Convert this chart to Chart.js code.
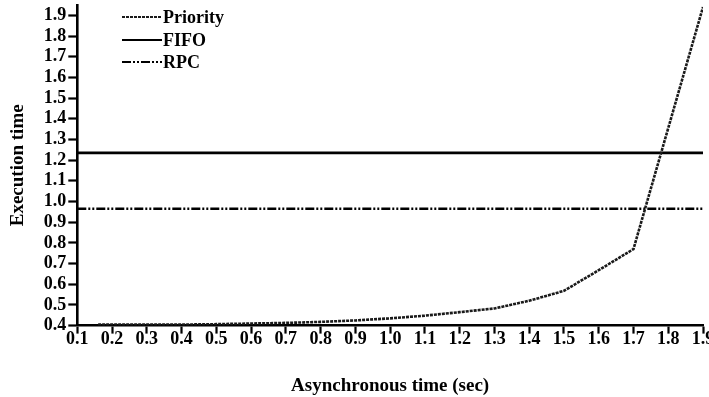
<!DOCTYPE html>
<html>
<head>
<meta charset="utf-8">
<script src="https://cdn.jsdelivr.net/npm/chart.js@4.4.1/dist/chart.umd.min.js"></script>
<style>
  html, body { margin: 0; padding: 0; background: #fff; overflow: hidden; }
  #wrap { width: 709px; height: 397px; }
</style>
</head>
<body>
<div id="wrap"><canvas id="execChart" width="709" height="397"></canvas></div>
<script>
// Asynchronous time (sec) vs execution time
const priorityX = [0.16, 0.2, 0.3, 0.4, 0.5, 0.6, 0.7, 0.8, 0.9, 1.0, 1.1, 1.2, 1.3, 1.4, 1.5, 1.6, 1.7, 1.8, 1.9];
const priorityY = [0.405, 0.405, 0.405, 0.405, 0.407, 0.41, 0.413, 0.418, 0.425, 0.435, 0.448, 0.465, 0.483, 0.52, 0.568, 0.668, 0.77, 1.355, 1.94];
const fifoValue = 1.235;
const rpcValue = 0.965;
const lineX = [0.1, 1.9];

const xTicks = [0.1, 0.2, 0.3, 0.4, 0.5, 0.6, 0.7, 0.8, 0.9, 1.0, 1.1, 1.2, 1.3, 1.4, 1.5, 1.6, 1.7, 1.8, 1.9];
const yTicks = [0.4, 0.5, 0.6, 0.7, 0.8, 0.9, 1.0, 1.1, 1.2, 1.3, 1.4, 1.5, 1.6, 1.7, 1.8, 1.9];

const FONT = "'Liberation Serif', 'DejaVu Serif', serif";

function toPoints(xs, ys) {
    return xs.map((x, i) => ({ x: x, y: ys[i] }));
}

/* ==========================
   LEGEND (top-left, inside plot)
========================== */
const insideLegend = {
    id: 'insideLegend',
    afterDraw(chart) {
        const ctx = chart.ctx;
        const x0 = 122, x1 = 162;
        const rows = [17, 40, 62];
        ctx.save();
        chart.data.datasets.forEach((ds, i) => {
            const y = rows[i];
            ctx.beginPath();
            ctx.strokeStyle = ds.borderColor;
            ctx.lineWidth = 2.2;
            ctx.setLineDash(ds.borderDash || []);
            ctx.moveTo(x0, y);
            ctx.lineTo(x1, y);
            ctx.stroke();
            ctx.setLineDash([]);
            ctx.fillStyle = '#000';
            ctx.font = "bold 18px " + FONT;
            ctx.textBaseline = 'middle';
            ctx.fillText(ds.label, x1 + 1, y + 1);
        });
        ctx.restore();
    }
};

const ctx = document.getElementById('execChart').getContext('2d');

new Chart(ctx, {
    type: 'line',
    data: {
        datasets: [{
            label: 'Priority',
            data: toPoints(priorityX, priorityY),
            borderColor: '#1a1a1a',
            borderWidth: 2.6,
            borderDash: [3, 1],
            pointRadius: 0,
            tension: 0
        }, {
            label: 'FIFO',
            data: toPoints(lineX, [fifoValue, fifoValue]),
            borderColor: '#000',
            borderWidth: 2.6,
            pointRadius: 0
        }, {
            label: 'RPC',
            data: toPoints(lineX, [rpcValue, rpcValue]),
            borderColor: '#000',
            borderWidth: 2.6,
            borderDash: [9, 2, 2, 2, 2, 2],
            pointRadius: 0
        }]
    },
    options: {
        responsive: false,
        animation: false,
        layout: { padding: { top: 5, right: 6, left: 7, bottom: 0 } },
        plugins: { legend: { display: false }, tooltip: { enabled: false } },
        scales: {
            x: {
                type: 'linear',
                min: 0.1,
                max: 1.9,
                afterBuildTicks: s => { s.ticks = xTicks.map(v => ({ value: v })); },
                afterFit: s => { s.paddingLeft = 0; s.paddingRight = 0; },
                border: { color: '#000', width: 2.6 },
                grid: { drawOnChartArea: false, color: '#000', tickLength: 8, tickWidth: 2.2 },
                ticks: {
                    color: '#000',
                    padding: -5,
                    maxRotation: 0,
                    autoSkip: false,
                    font: { family: FONT, size: 18, weight: 'bold' },
                    callback: v => v.toFixed(1)
                },
                title: {
                    display: true,
                    text: 'Asynchronous time (sec)',
                    color: '#000',
                    padding: { top: 29, bottom: 0 },
                    font: { family: FONT, size: 19, weight: 'bold' }
                }
            },
            y: {
                min: 0.4,
                max: 1.95,
                afterBuildTicks: s => { s.ticks = yTicks.map(v => ({ value: v })); },
                afterFit: s => { s.paddingTop = 0; s.paddingBottom = 0; },
                border: { color: '#000', width: 2.6 },
                grid: { drawOnChartArea: false, color: '#000', tickLength: 9, tickWidth: 2.2 },
                ticks: {
                    color: '#000',
                    padding: 2,
                    autoSkip: false,
                    font: { family: FONT, size: 18, weight: 'bold' },
                    callback: v => v.toFixed(1)
                },
                title: {
                    display: true,
                    text: 'Execution time',
                    color: '#000',
                    padding: { top: 0, bottom: 12 },
                    font: { family: FONT, size: 19, weight: 'bold' }
                }
            }
        }
    },
    plugins: [insideLegend]
});
</script>
</body>
</html>
